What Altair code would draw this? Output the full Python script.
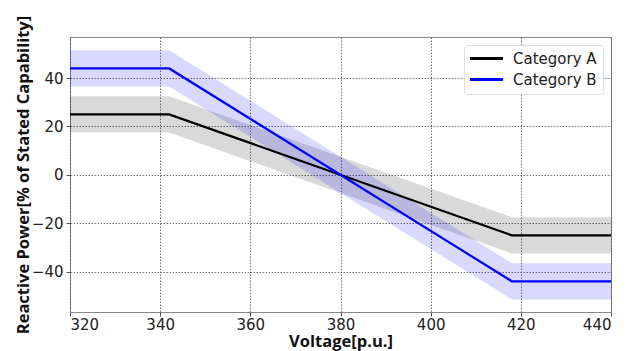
import altair as alt
import pandas as pd

voltage = [320, 342, 418, 440]
cat_a = [25, 25, -25, -25]
cat_b = [44, 44, -44, -44]
band_half = [7.5, 7.5, 7.5, 7.5]
categories = ["Category A", "Category B"]
line_colors = ["#000000", "#0000ff"]
band_colors = ["#000000", "#0000ff"]
x_ticks = [320, 340, 360, 380, 400, 420, 440]
y_ticks = [-40, -20, 0, 20, 40]

rows = []
for name, vals in zip(categories, [cat_a, cat_b]):
    for v, q, h in zip(voltage, vals, band_half):
        rows.append({"Voltage": v, "Q": q, "lo": q - h, "hi": q + h, "Category": name})
df = pd.DataFrame(rows)

xscale = alt.Scale(domain=[320, 440], nice=False, zero=False)
yscale = alt.Scale(domain=[-56.7, 57], nice=False, zero=False)

common = dict(grid=True, gridDash=[1.5, 1.5], gridColor="#555555", gridOpacity=0.8,
              labelFont="DejaVu Sans", labelFontSize=15, labelColor="#222222",
              titleFont="Open Sans", titleFontSize=16.5, titleFontWeight="bold",
              titleColor="#111111", tickColor="#555555", tickSize=4, domain=False)

xaxis = alt.Axis(values=x_ticks, title="Voltage[p.u.]", labelPadding=1, titlePadding=1, **common)
yaxis = alt.Axis(values=y_ticks, title="Reactive Power[% of Stated Capability]",
                 labelPadding=3, titlePadding=0, **common)

bands = alt.Chart(df).mark_area(opacity=0.15).encode(
    x=alt.X("Voltage:Q", scale=xscale, axis=xaxis),
    y=alt.Y("lo:Q", scale=yscale, axis=yaxis),
    y2="hi:Q",
    color=alt.Color("Category:N", scale=alt.Scale(domain=categories, range=band_colors), legend=None),
    detail="Category:N",
)

lines = alt.Chart(df).mark_line(strokeWidth=2.2).encode(
    x=alt.X("Voltage:Q", scale=xscale),
    y=alt.Y("Q:Q", scale=yscale),
    stroke=alt.Stroke("Category:N", scale=alt.Scale(domain=categories, range=line_colors),
                      legend=alt.Legend(title=None, orient="none", legendX=394, legendY=8,
                                        symbolType="M-2.75,0L2.75,0", symbolStrokeWidth=2.8,
                                        symbolSize=144, symbolOffset=9,
                                        labelFont="DejaVu Sans", labelFontSize=15, labelColor="#222222",
                                        fillColor="rgba(255,255,255,0.85)", strokeColor="#dddddd",
                                        padding=6, cornerRadius=3, rowPadding=5, labelOffset=19)),
)

chart = alt.layer(bands, lines).resolve_scale(color="independent").properties(
    width=541, height=275,
    autosize=alt.AutoSizeParams(type="none"),
    padding={"left": 62, "top": 29, "right": 19, "bottom": 40},
).configure_view(stroke="#888888", strokeWidth=1)

chart.save("out.html", embed_options={"renderer": "svg", "actions": False})
